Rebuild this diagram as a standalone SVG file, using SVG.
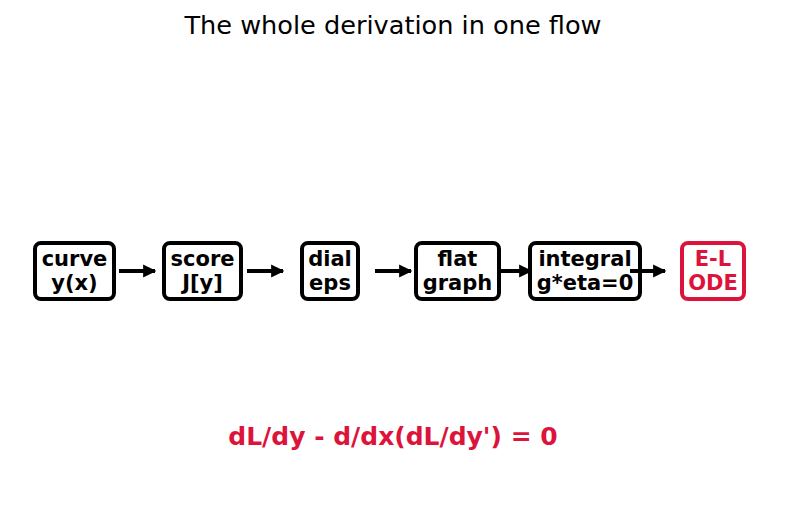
<svg xmlns="http://www.w3.org/2000/svg" width="787" height="512" viewBox="0 0 787 512">
<style>
.box{fill:#fff;stroke:#000;stroke-width:4}
.red{stroke:#dc143c}
.t{font-family:"DejaVu Sans",sans-serif;font-weight:bold;font-size:21px;text-anchor:middle}
.rt{fill:#dc143c}
.c{stroke:#000;stroke-width:4;fill:none;marker-end:url(#ah)}
</style>
<defs>
<marker id="ah" viewBox="0 0 10 10" refX="9" refY="5" markerWidth="3.3" markerHeight="3.3" orient="auto" markerUnits="strokeWidth">
<path d="M0,0 L10,5 L0,10 z" fill="#000"/>
</marker>
</defs>
<rect width="787" height="512" fill="#fff"/>
<text x="393" y="34" font-family="DejaVu Sans,sans-serif" font-size="25.6" text-anchor="middle">The whole derivation in one flow</text>
<g id="curve"><rect class="box" x="35" y="243" width="79" height="56" rx="6"/><text class="t" x="74.5" y="266">curve</text><text class="t" x="74.5" y="290">y(x)</text></g>
<g id="score"><rect class="box" x="164" y="243" width="77" height="56" rx="6"/><text class="t" x="202.5" y="266">score</text><text class="t" x="202.5" y="290">J[y]</text></g>
<g id="dial"><rect class="box" x="302" y="243" width="56" height="56" rx="6"/><text class="t" x="330" y="266">dial</text><text class="t" x="330" y="290">eps</text></g>
<g id="flat"><rect class="box" x="416" y="243" width="83" height="56" rx="6"/><text class="t" x="457.5" y="266">flat</text><text class="t" x="457.5" y="290">graph</text></g>
<g id="integral"><rect class="box" x="530" y="243" width="110" height="56" rx="6"/><text class="t" x="585" y="266">integral</text><text class="t" x="585" y="290">g*eta=0</text></g>
<g id="el"><rect class="box red" x="682" y="243" width="62" height="56" rx="6"/><text class="t rt" x="713" y="266">E-L</text><text class="t rt" x="713" y="290">ODE</text></g>
<g id="connectors">
<line class="c" x1="119" y1="271" x2="155" y2="271"/>
<line class="c" x1="247" y1="271" x2="283" y2="271"/>
<line class="c" x1="375" y1="271" x2="411" y2="271"/>
<line class="c" x1="501" y1="271" x2="531" y2="271"/>
<line class="c" x1="630" y1="271" x2="665" y2="271"/>
</g>
<text x="393" y="445" font-family="DejaVu Sans,sans-serif" font-weight="bold" font-size="25" fill="#dc143c" text-anchor="middle">dL/dy - d/dx(dL/dy') = 0</text>
</svg>
